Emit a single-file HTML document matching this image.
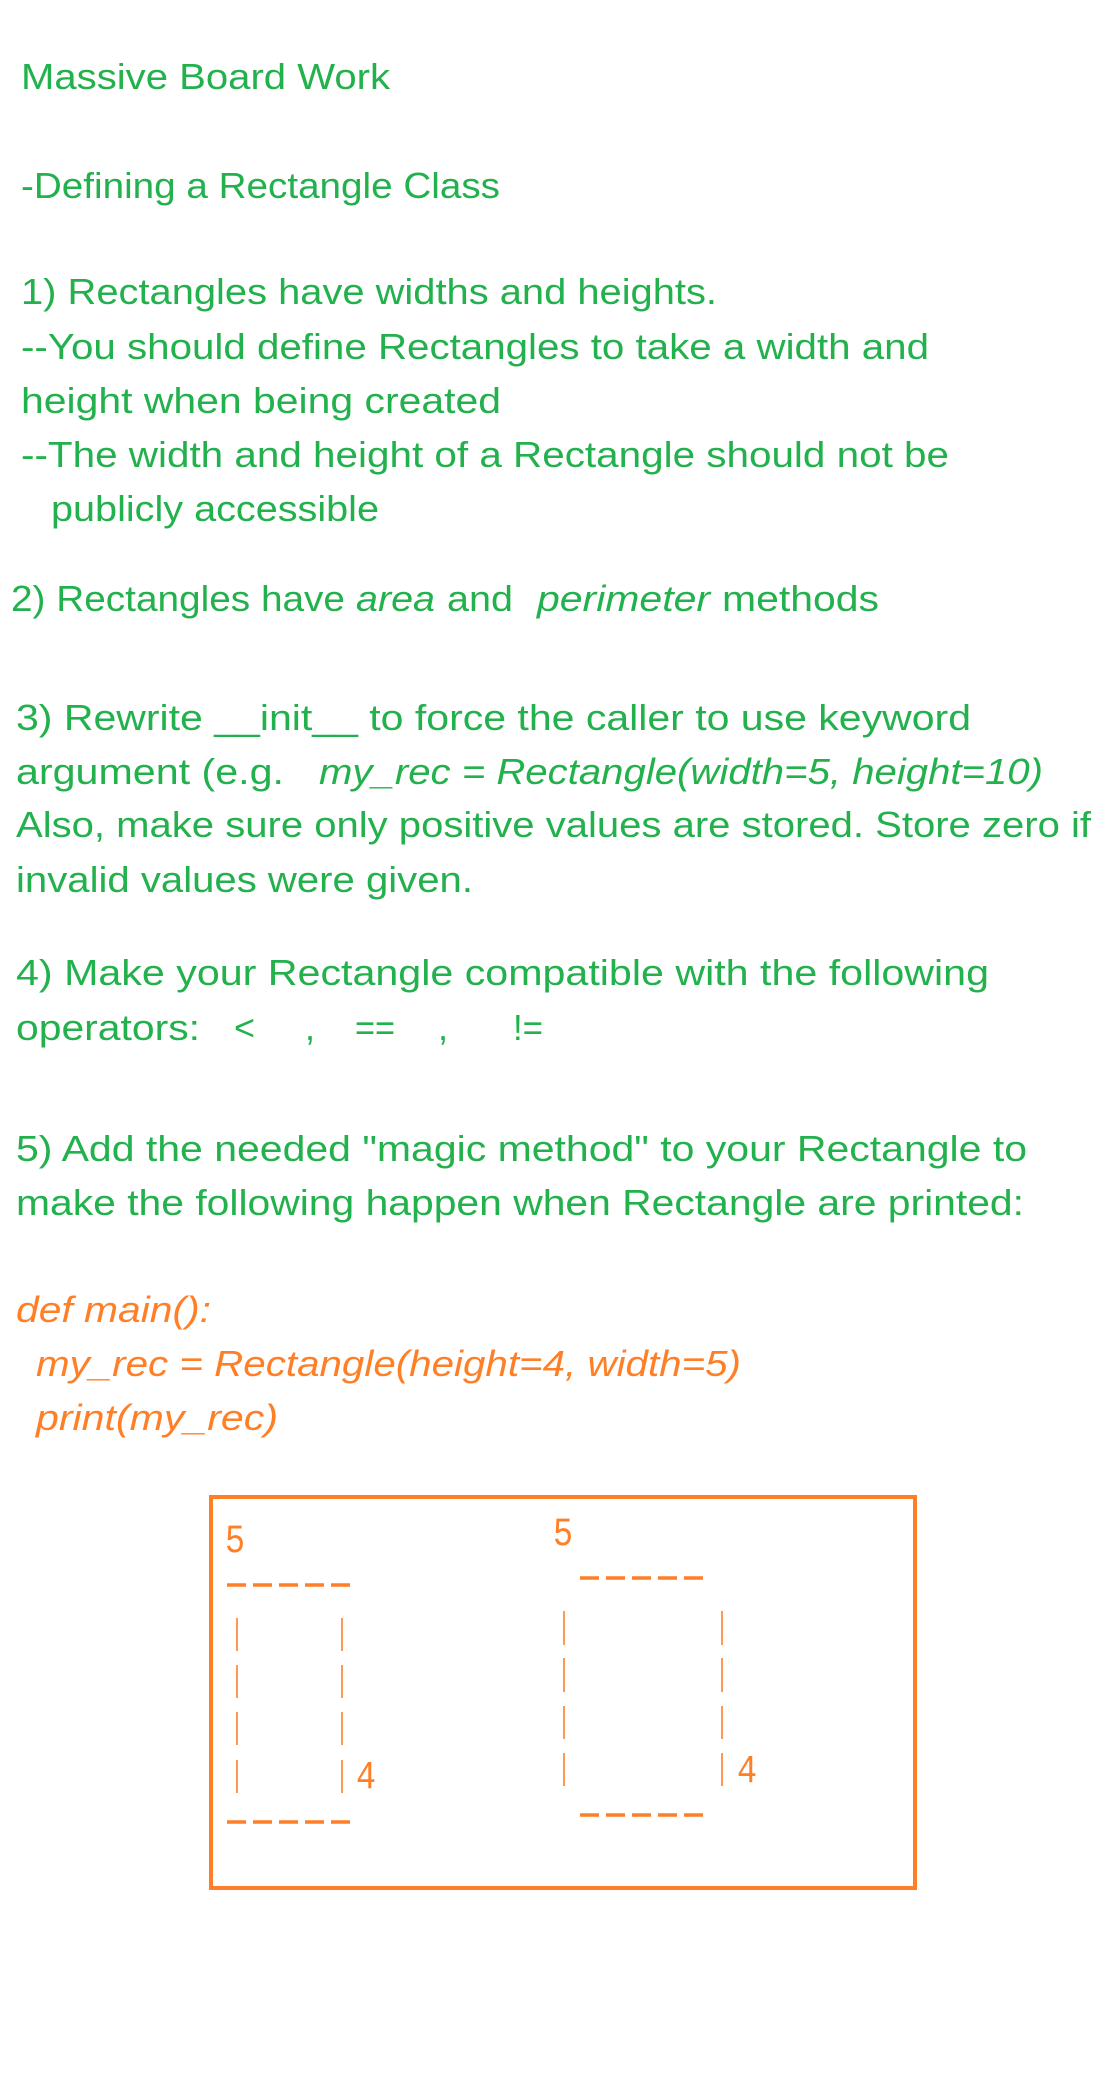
<!DOCTYPE html>
<html><head><meta charset="utf-8"><style>
html,body{margin:0;padding:0;background:#fff;}
svg{display:block;}
.g{fill:#22b14c;font-family:"Liberation Sans",sans-serif;font-size:36px;}
.o{fill:#ff7f27;font-family:"Liberation Sans",sans-serif;font-size:36px;font-style:italic;}
.i{font-style:italic;}
.m{fill:#ff7f27;font-family:"Liberation Mono","DejaVu Sans Mono",monospace;font-size:40px;}
</style></head><body>
<svg width="1096" height="2096" viewBox="0 0 1096 2096" xmlns="http://www.w3.org/2000/svg">
<g class="g">
<text x="21" y="89" textLength="369" lengthAdjust="spacingAndGlyphs">Massive Board Work</text>
<text x="21" y="198" textLength="479" lengthAdjust="spacingAndGlyphs">-Defining a Rectangle Class</text>
<text x="21" y="304" textLength="696" lengthAdjust="spacingAndGlyphs">1) Rectangles have widths and heights.</text>
<text x="21" y="359" textLength="908" lengthAdjust="spacingAndGlyphs">--You should define Rectangles to take a width and</text>
<text x="21" y="413" textLength="480" lengthAdjust="spacingAndGlyphs">height when being created</text>
<text x="21" y="467" textLength="928" lengthAdjust="spacingAndGlyphs">--The width and height of a Rectangle should not be</text>
<text x="51" y="521" textLength="328" lengthAdjust="spacingAndGlyphs">publicly accessible</text>
<text x="11" y="611" textLength="334" lengthAdjust="spacingAndGlyphs">2) Rectangles have</text>
<text x="356" y="611" textLength="79" lengthAdjust="spacingAndGlyphs" class="i">area</text>
<text x="447" y="611" textLength="66" lengthAdjust="spacingAndGlyphs">and</text>
<text x="537" y="611" textLength="173" lengthAdjust="spacingAndGlyphs" class="i">perimeter</text>
<text x="722" y="611" textLength="157" lengthAdjust="spacingAndGlyphs">methods</text>
<text x="16" y="730" textLength="955" lengthAdjust="spacingAndGlyphs">3) Rewrite __init__ to force the caller to use keyword</text>
<text x="16" y="784" textLength="268" lengthAdjust="spacingAndGlyphs">argument (e.g.</text>
<text x="319" y="784" textLength="724" lengthAdjust="spacingAndGlyphs" class="i">my_rec = Rectangle(width=5, height=10)</text>
<text x="16" y="837" textLength="1075" lengthAdjust="spacingAndGlyphs">Also, make sure only positive values are stored. Store zero if</text>
<text x="16" y="892" textLength="457" lengthAdjust="spacingAndGlyphs">invalid values were given.</text>
<text x="16" y="985" textLength="973" lengthAdjust="spacingAndGlyphs">4) Make your Rectangle compatible with the following</text>
<text x="16" y="1040" textLength="184" lengthAdjust="spacingAndGlyphs">operators:</text>
<text x="234" y="1040">&lt;</text>
<text x="305" y="1040">,</text>
<text x="355" y="1040" textLength="40" lengthAdjust="spacingAndGlyphs">==</text>
<text x="438" y="1040">,</text>
<text x="513" y="1040" textLength="30" lengthAdjust="spacingAndGlyphs">!=</text>
<text x="16" y="1161" textLength="1011" lengthAdjust="spacingAndGlyphs">5) Add the needed "magic method" to your Rectangle to</text>
<text x="16" y="1215" textLength="1008" lengthAdjust="spacingAndGlyphs">make the following happen when Rectangle are printed:</text>
</g>
<g class="o">
<text x="16" y="1322" textLength="195" lengthAdjust="spacingAndGlyphs">def main():</text>
<text x="36" y="1376" textLength="705" lengthAdjust="spacingAndGlyphs">my_rec = Rectangle(height=4, width=5)</text>
<text x="36" y="1430" textLength="242" lengthAdjust="spacingAndGlyphs">print(my_rec)</text>
</g>
<rect x="211" y="1497" width="704" height="391" fill="none" stroke="#ff7f27" stroke-width="4"/>
<g class="m">
<text x="225" y="1552" textLength="20" lengthAdjust="spacingAndGlyphs">5</text>
<text x="356" y="1788" textLength="20" lengthAdjust="spacingAndGlyphs">4</text>
<text x="553" y="1545" textLength="20" lengthAdjust="spacingAndGlyphs">5</text>
<text x="737" y="1782" textLength="20" lengthAdjust="spacingAndGlyphs">4</text>
</g>
<g stroke="#ff7f27" fill="none">
<line x1="227" y1="1585" x2="351" y2="1585" stroke-width="3.5" stroke-dasharray="19 7"/>
<line x1="227" y1="1822" x2="351" y2="1822" stroke-width="3.5" stroke-dasharray="19 7"/>
<line x1="580" y1="1578" x2="706" y2="1578" stroke-width="3.5" stroke-dasharray="19 7"/>
<line x1="580" y1="1815" x2="706" y2="1815" stroke-width="3.5" stroke-dasharray="19 7"/>
<g stroke-width="1.6">
<line x1="237" y1="1618" x2="237" y2="1651"/><line x1="237" y1="1665" x2="237" y2="1698"/>
<line x1="237" y1="1712" x2="237" y2="1745"/><line x1="237" y1="1760" x2="237" y2="1793"/>
<line x1="342" y1="1618" x2="342" y2="1651"/><line x1="342" y1="1665" x2="342" y2="1698"/>
<line x1="342" y1="1712" x2="342" y2="1745"/><line x1="342" y1="1760" x2="342" y2="1793"/>
<line x1="564" y1="1611" x2="564" y2="1645"/><line x1="564" y1="1658" x2="564" y2="1692"/>
<line x1="564" y1="1706" x2="564" y2="1739"/><line x1="564" y1="1753" x2="564" y2="1786"/>
<line x1="722" y1="1611" x2="722" y2="1645"/><line x1="722" y1="1658" x2="722" y2="1692"/>
<line x1="722" y1="1706" x2="722" y2="1739"/><line x1="722" y1="1753" x2="722" y2="1786"/>
</g>
</g>
</svg>
</body></html>
